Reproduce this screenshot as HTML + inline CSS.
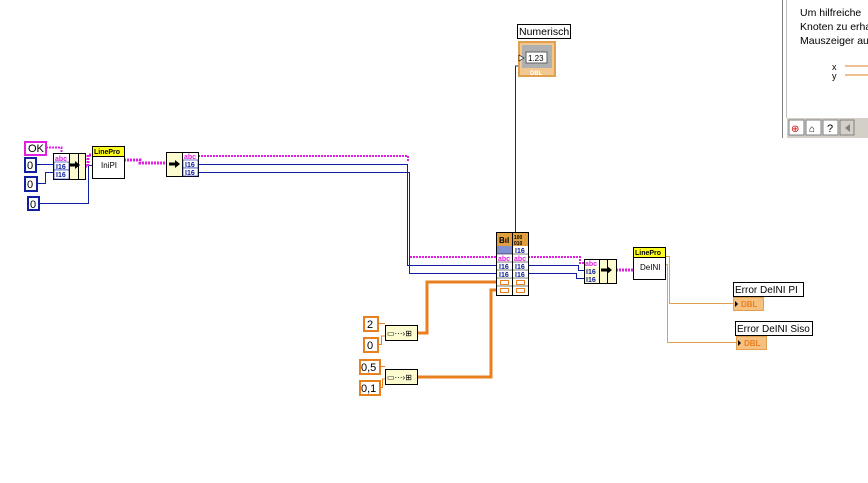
<!DOCTYPE html>
<html><head><style>
body{margin:0;background:#fff;}
svg text{font-family:"Liberation Sans",sans-serif;}
</style></head><body>
<svg width="868" height="478" viewBox="0 0 868 478" xmlns="http://www.w3.org/2000/svg">
<rect width="868" height="478" fill="#fff"/>
<!-- help window -->
<rect x="782" y="0" width="86" height="138" fill="#fff"/>
<line x1="782.5" y1="0" x2="782.5" y2="138" stroke="#808080"/>
<line x1="786.5" y1="0" x2="786.5" y2="118" stroke="#c0c0c0"/>
<text x="800" y="16" font-size="10.5">Um hilfreiche</text>
<text x="800" y="30" font-size="10.5">Knoten zu erha</text>
<text x="800" y="44" font-size="10.5">Mauszeiger au</text>
<text x="832" y="70" font-size="9">x</text>
<text x="832" y="79" font-size="9">y</text>
<line x1="845" y1="66" x2="868" y2="66" stroke="#e08020"/>
<line x1="845" y1="75" x2="868" y2="75" stroke="#e08020"/>
<rect x="787" y="118" width="81" height="20" fill="#d4d0c8"/>
<rect x="789" y="120" width="15" height="15" fill="#fff" stroke="#808080"/>
<rect x="806" y="120" width="15" height="15" fill="#fff" stroke="#808080"/>
<rect x="823" y="120" width="15" height="15" fill="#fff" stroke="#808080"/>
<rect x="840" y="120" width="14" height="15" fill="#d4d0c8" stroke="#808080"/>
<text x="791" y="132" font-size="10" fill="#c00">⊕</text>
<text x="809" y="132" font-size="10">⌂</text>
<text x="827" y="132" font-size="11">?</text>
<polygon points="850,124 850,132 845,128" fill="#808080"/>

<!-- wires -->
<g fill="none" stroke-width="1">
<path d="M46 147.5H61.5V155" stroke="#e020e0" stroke-dasharray="2 1" stroke-width="2"/>
<path d="M36 164.5H53" stroke="#1020a0"/>
<path d="M37 183.5H45.5V172.5H53" stroke="#1020a0"/>
<path d="M39 203.5H88.5V165.5H92" stroke="#1020a0"/>
<path d="M85 166H88V155H92" stroke="#e020e0" stroke-width="3" stroke-dasharray="2 1"/>
<path d="M124 160H140V163H166" stroke="#e020e0" stroke-width="3" stroke-dasharray="2 1"/>
<path d="M198 156H408V162" stroke="#e020e0" stroke-width="2" stroke-dasharray="2 1"/>
<path d="M198 164.5H407.5V265.5H496" stroke="#1020a0"/>
<path d="M198 172.5H409.5V273.5H496" stroke="#1020a0"/>
<path d="M410 257H496" stroke="#e020e0" stroke-width="2" stroke-dasharray="2 1"/>
<path d="M515.5 232V66H518" stroke="#1020a0"/>
<path d="M528 257H580V263H584" stroke="#e020e0" stroke-width="2" stroke-dasharray="2 1"/>
<path d="M528 265.5H578.5V270.5H584" stroke="#1020a0"/>
<path d="M528 273.5H576.5V278.5H584" stroke="#1020a0"/>
<path d="M616 270H633" stroke="#e020e0" stroke-width="3" stroke-dasharray="2 1"/>
<path d="M665 256.5H669.5V303.5H733" stroke="#e0a050"/>
<path d="M665 264.5H667.5V342.5H736" stroke="#e0a050"/>
<path d="M496 282H427V333H417" stroke="#e88020" stroke-width="3"/>
<path d="M496 290H491V377H417" stroke="#e88020" stroke-width="3"/>
<path d="M378 323.5H385" stroke="#e88020"/>
<path d="M378 344.5H381.5V336H385" stroke="#e88020"/>
<path d="M380 366.5H385" stroke="#e88020"/>
<path d="M380 387.5H382.5V379H385" stroke="#e88020"/>
</g>

<!-- constants -->
<g font-size="11">
<rect x="25" y="142" width="21" height="13" fill="#fff" stroke="#e020e0" stroke-width="2"/><text x="28" y="152">OK</text>
<rect x="25" y="158" width="11" height="14" fill="#fff" stroke="#1020a0" stroke-width="2"/><text x="27" y="169">0</text>
<rect x="25" y="177" width="12" height="14" fill="#fff" stroke="#1020a0" stroke-width="2"/><text x="27" y="188">0</text>
<rect x="28" y="197" width="11" height="13" fill="#fff" stroke="#1020a0" stroke-width="2"/><text x="30" y="208">0</text>
<rect x="364" y="317" width="14" height="14" fill="#fff" stroke="#e88020" stroke-width="2"/><text x="367" y="328">2</text>
<rect x="364" y="338" width="14" height="14" fill="#fff" stroke="#e88020" stroke-width="2"/><text x="367" y="349">0</text>
<rect x="360" y="360" width="20" height="14" fill="#fff" stroke="#e88020" stroke-width="2"/><text x="361" y="371">0,5</text>
<rect x="360" y="381" width="20" height="14" fill="#fff" stroke="#e88020" stroke-width="2"/><text x="361" y="392">0,1</text>
</g>

<!-- bundle node 1 -->
<g font-size="7" font-weight="bold">
<rect x="53.5" y="153.5" width="32" height="26" fill="#fdfbd0" stroke="#000"/>
<line x1="69.5" y1="153" x2="69.5" y2="180" stroke="#000"/>
<line x1="78.5" y1="153" x2="78.5" y2="180" stroke="#000"/>
<rect x="54" y="154" width="15" height="8" fill="#fff"/><text x="55" y="161" fill="#e020e0">abc</text>
<rect x="54" y="162" width="15" height="8" fill="#fff" stroke="#1020a0" stroke-width="0.6"/><text x="56" y="169" fill="#1020a0">I16</text>
<rect x="54" y="170" width="15" height="9" fill="#fff" stroke="#1020a0" stroke-width="0.6"/><text x="56" y="177" fill="#1020a0">I16</text>
<path d="M70 165H76" stroke="#000" stroke-width="3"/><polygon points="75,161 80,165 75,169"/>
</g>
<!-- LinePro InIPI -->
<rect x="92.5" y="146.5" width="32" height="32" fill="#fff" stroke="#000"/>
<rect x="93" y="147" width="31" height="9" fill="#ffff20"/>
<line x1="92" y1="156.5" x2="125" y2="156.5" stroke="#000"/>
<text x="94" y="154" font-size="7" font-weight="bold">LinePro</text>
<text x="101" y="168" font-size="8">IniPI</text>
<!-- unbundle 2 -->
<g font-size="7" font-weight="bold">
<rect x="166.5" y="152.5" width="32" height="24" fill="#fdfbd0" stroke="#000"/>
<line x1="182.5" y1="152" x2="182.5" y2="177" stroke="#000"/>
<rect x="183" y="153" width="15" height="7" fill="#fff"/><text x="184" y="159" fill="#e020e0">abc</text>
<rect x="183" y="160" width="15" height="8" fill="#fff" stroke="#1020a0" stroke-width="0.6"/><text x="185" y="167" fill="#1020a0">I16</text>
<rect x="183" y="168" width="15" height="8" fill="#fff" stroke="#1020a0" stroke-width="0.6"/><text x="185" y="175" fill="#1020a0">I16</text>
<path d="M169 164H176" stroke="#000" stroke-width="3"/><polygon points="175,160 180,164 175,168"/>
</g>
<!-- middle node -->
<g font-size="7" font-weight="bold">
<rect x="496.5" y="232.5" width="32" height="63" fill="#fff" stroke="#000"/>
<rect x="497" y="233" width="31" height="13" fill="#e0a040"/>
<text x="499" y="243" font-size="8">Bıl</text><text x="514" y="239" font-size="5">100</text><text x="514" y="245" font-size="5">010</text>
<line x1="512.5" y1="232" x2="512.5" y2="296" stroke="#000"/>
<rect x="497" y="246" width="15" height="8" fill="#8090d0"/>
<text x="515" y="253" fill="#1020a0">I16</text>
<text x="498" y="261" fill="#e020e0">abc</text><text x="514" y="261" fill="#e020e0">abc</text>
<text x="499" y="269" fill="#1020a0">I16</text><text x="515" y="269" fill="#1020a0">I16</text>
<text x="499" y="277" fill="#1020a0">I16</text><text x="515" y="277" fill="#1020a0">I16</text>
<rect x="500.5" y="280.5" width="8" height="4" fill="none" stroke="#e88020"/>
<rect x="516.5" y="280.5" width="8" height="4" fill="none" stroke="#e88020"/>
<rect x="500.5" y="288.5" width="8" height="4" fill="none" stroke="#e88020"/>
<rect x="516.5" y="288.5" width="8" height="4" fill="none" stroke="#e88020"/>
<path d="M497 254H528M497 262H528M497 270H528M497 278H528M497 286H528" stroke="#000" stroke-width="0.6"/>
</g>
<!-- bundle node right -->
<g font-size="7" font-weight="bold">
<rect x="584.5" y="259.5" width="32" height="24" fill="#fdfbd0" stroke="#000"/>
<line x1="599.5" y1="259" x2="599.5" y2="284" stroke="#000"/>
<line x1="607.5" y1="259" x2="607.5" y2="284" stroke="#000"/>
<rect x="585" y="260" width="14" height="7" fill="#fff"/><text x="585" y="266" fill="#e020e0">abc</text>
<text x="586" y="274" fill="#1020a0">I16</text><text x="586" y="282" fill="#1020a0">I16</text>
<path d="M601 270H608" stroke="#000" stroke-width="3"/><polygon points="607,266 612,270 607,274"/>
</g>
<!-- DeINI -->
<rect x="633.5" y="247.5" width="32" height="32" fill="#fff" stroke="#000"/>
<rect x="634" y="248" width="31" height="9" fill="#ffff20"/>
<line x1="633" y1="257.5" x2="666" y2="257.5" stroke="#000"/>
<text x="635" y="255" font-size="7" font-weight="bold">LinePro</text>
<text x="640" y="270" font-size="8">DeINI</text>
<!-- build arrays -->
<g>
<rect x="385.5" y="325.5" width="32" height="15" fill="#fdfbd0" stroke="#000"/>
<rect x="385.5" y="369.5" width="32" height="15" fill="#fdfbd0" stroke="#000"/>
<text x="387" y="336" font-size="8">▭⋯›⊞</text>
<text x="387" y="380" font-size="8">▭⋯›⊞</text>
</g>
<!-- Numerisch -->
<rect x="517.5" y="24.5" width="53" height="14" fill="#fff" stroke="#000"/>
<text x="519" y="35" font-size="10.5">Numerisch</text>
<rect x="519" y="42" width="36" height="34" fill="#f0c890" stroke="#e0a050" stroke-width="2"/>
<rect x="522" y="45" width="30" height="23" fill="#b0b0b0"/>
<rect x="526" y="52" width="21" height="11" fill="#fff" stroke="#606060"/>
<text x="528" y="61" font-size="8">1.23</text>
<polygon points="519,55 524,58 519,61" fill="#fff" stroke="#000" stroke-width="0.6"/>
<text x="530" y="75" font-size="6" fill="#fff" font-weight="bold">DBL</text>
<!-- error indicators -->
<rect x="733.5" y="282.5" width="70" height="14" fill="#fff" stroke="#000"/>
<text x="735" y="293" font-size="10">Error DeINI PI</text>
<rect x="733.5" y="297.5" width="30" height="13" fill="#f5c080" stroke="#e0a050"/>
<text x="741" y="307" font-size="8" font-weight="bold" fill="#e88020">DBL</text>
<polygon points="735,301 738,304 735,307"/>
<rect x="735.5" y="321.5" width="77" height="14" fill="#fff" stroke="#000"/>
<text x="737" y="332" font-size="10">Error DeINI Siso</text>
<rect x="736.5" y="336.5" width="30" height="13" fill="#f5c080" stroke="#e0a050"/>
<text x="744" y="346" font-size="8" font-weight="bold" fill="#e88020">DBL</text>
<polygon points="738,340 741,343 738,346"/>
</svg>
</body></html>
